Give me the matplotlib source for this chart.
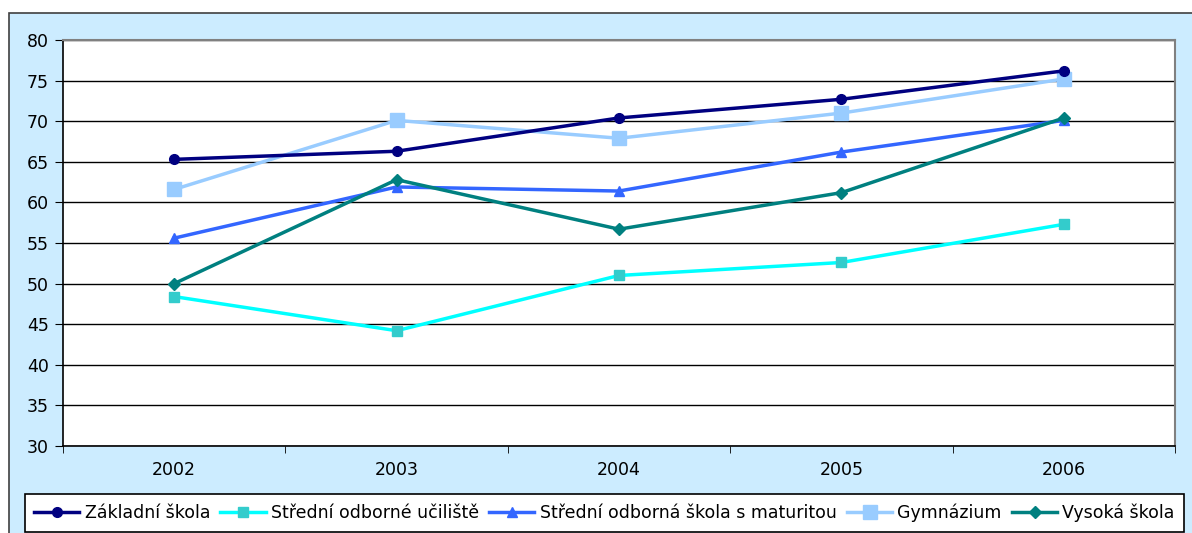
import matplotlib.pyplot as plt
from matplotlib.patches import Rectangle

years = ['2002', '2003', '2004', '2005', '2006']
zakladni = [65.3, 66.3, 70.4, 72.7, 76.2]
sou = [48.4, 44.2, 51.0, 52.6, 57.3]
sos_mat = [55.6, 61.9, 61.4, 66.2, 70.1]
gymnazium = [61.6, 70.1, 67.9, 71.0, 75.2]
vysoka = [50.0, 62.8, 56.7, 61.2, 70.4]

plt.rcParams['font.family'] = ['DejaVu Sans']

W, H = 1192, 533
fig = plt.figure(figsize=(W / 100, H / 100), dpi=100)
fig.patch.set_facecolor('white')

# light blue chart area, drawn in a background axes
bg = fig.add_axes([0, 0, 1, 1], zorder=-1)
bg.set_axis_off()
bg.set_xlim(0, W)
bg.set_ylim(H, 0)
bg.add_patch(Rectangle((9, 13), W + 10, H, facecolor='#CCECFF',
                       edgecolor='#404040', linewidth=1.2))

ax = fig.add_axes([63 / W, 1 - 446 / H, (1175 - 63) / W, (446 - 40) / H])
ax.set_facecolor('white')
x = range(len(years))

ax.plot(x, zakladni, color='#000080', lw=2.5, marker='o', ms=7, label='Základní škola', zorder=5)
ax.plot(x, sou, color='#00FFFF', lw=2.5, marker='s', ms=7, mfc='#33CCCC', mec='#33CCCC',
        label='Střední odborné učiliště', zorder=4)
ax.plot(x, sos_mat, color='#3366FF', lw=2.5, marker='^', ms=7, label='Střední odborná škola s maturitou', zorder=4)
ax.plot(x, gymnazium, color='#99CCFF', lw=2.5, marker='s', ms=10, label='Gymnázium', zorder=4)
ax.plot(x, vysoka, color='#008080', lw=2.5, marker='D', ms=6, label='Vysoká škola', zorder=6)

ax.set_xlim(-0.5, len(years) - 0.5)
ax.set_ylim(30, 80)
ax.set_yticks(range(30, 81, 5))
ax.set_xticks(list(x))
ax.set_xticklabels(years)
ax.set_xticks([i - 0.5 for i in range(len(years) + 1)], minor=True)
ax.tick_params(axis='x', which='major', length=0, pad=11, labelsize=12.5)
ax.tick_params(axis='x', which='minor', length=5, direction='out', color='black')
ax.tick_params(axis='y', length=6, direction='out', labelsize=12.5, pad=4)
ax.grid(axis='y', color='black', lw=1)
ax.set_axisbelow(True)
for s in ['top', 'right']:
    ax.spines[s].set_color('#808080')
    ax.spines[s].set_linewidth(1.5)
for s in ['left', 'bottom']:
    ax.spines[s].set_color('black')
    ax.spines[s].set_linewidth(1.2)

leg = fig.legend(loc='center', bbox_to_anchor=(604.5 / W, 1 - 513 / H), ncol=5,
                 fontsize=12.5, frameon=True, fancybox=False, edgecolor='black',
                 handlelength=2.6, handletextpad=0.3, columnspacing=0.6,
                 borderpad=0.55, framealpha=1)
leg.get_frame().set_linewidth(1.2)

fig.savefig('out.png', dpi=100)
